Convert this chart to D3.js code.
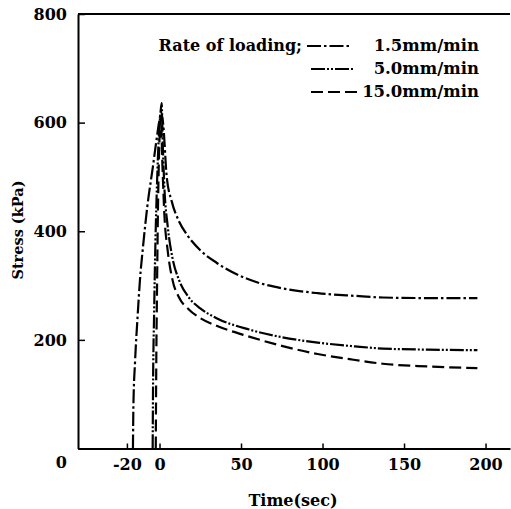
<!DOCTYPE html>
<html>
<head>
<meta charset="utf-8">
<script src="https://cdn.jsdelivr.net/npm/d3@7/dist/d3.min.js"></script>
<style>
    body { margin: 0; background: #fff; }
    svg { display: block; }
    text { font-family: "DejaVu Serif", serif; font-weight: bold; fill: #000; }
</style>
</head>
<body>
<div id="root"></div>
<script>
// data (time in sec, stress in kPa)
const seriesNames = ["1.5mm/min", "5.0mm/min", "15.0mm/min"];

const time15 = [-16.3, -16, -15, -13.5, -12, -10, -7.5, -4, -2, 0, 1, 2.3, 4.4, 7.5, 12, 17, 25, 35, 55, 75, 97, 120, 137, 165, 195];
const stress15 = [0, 80, 160, 240, 310, 375, 445, 520, 565, 605, 620, 596, 501, 455, 418, 393, 365, 342, 311, 295, 286, 281, 278, 277, 277];

const time50 = [-4.2, -4, -3.3, -2.5, -1.5, -0.5, 0.5, 1.3, 2, 3, 5, 8, 12, 18, 25, 35, 55, 75, 97, 120, 137, 165, 195];
const stress50 = [0, 100, 250, 380, 490, 570, 615, 636, 560, 480, 410, 350, 310, 278, 258, 240, 219, 205, 195, 188, 184, 182, 181];

const time150 = [-2.3, -2, -1.5, -1, -0.3, 0.5, 0.8, 1.8, 3, 5, 8, 12, 18, 25, 35, 55, 75, 97, 120, 137, 165, 195];
const stress150 = [0, 150, 300, 430, 540, 600, 610, 520, 430, 365, 310, 278, 256, 240, 226, 206, 189, 174, 163, 156, 151, 148];

const xTicks = [-20, 0, 50, 100, 150, 200];
const yTicks = [0, 200, 400, 600, 800];

(function () {
    const width = 511;
    const height = 509;

    const svg = d3.select("#root").append("svg")
        .attr("width", width)
        .attr("height", height);

    const x = d3.scaleLinear().domain([-50, 215]).range([78, 510]);
    const y = d3.scaleLinear().domain([0, 800]).range([448.5, 14]);

    // dash style per series
    const dashes = ["14,3,2.5,3", "14,2,2,2,2,2", "12,5"];

    // x axis (ticks point inward)
    const gx = svg.append("g")
        .attr("transform", `translate(0,${y(0)})`)
        .call(d3.axisBottom(x).tickValues(xTicks).tickFormat(d => String(d))
            .tickSizeInner(-5).tickSizeOuter(0).tickPadding(10));
    gx.select(".domain").attr("stroke-width", 2);
    gx.selectAll(".tick line").attr("stroke-width", 1.5);
    gx.selectAll(".tick text").style("font-size", "16px");

    // y axis
    const gy = svg.append("g")
        .attr("transform", `translate(${x(-50)},0)`)
        .call(d3.axisLeft(y).tickValues(yTicks).tickSizeInner(-7).tickSizeOuter(0).tickPadding(11));
    gy.select(".domain").attr("stroke-width", 2);
    gy.selectAll(".tick line").attr("stroke-width", 1.5);
    gy.selectAll(".tick text").style("font-size", "16px");
    gy.selectAll(".tick").filter(d => d === 0).select("text").attr("dy", "1.2em");

    // top frame line
    svg.append("line")
        .attr("x1", x(-50)).attr("x2", x(215))
        .attr("y1", y(800)).attr("y2", y(800))
        .attr("stroke", "#000").attr("stroke-width", 2);

    // axis titles
    svg.append("text")
        .attr("x", 293).attr("y", 506)
        .attr("text-anchor", "middle")
        .style("font-size", "16px")
        .text("Time(sec)");

    svg.append("text")
        .attr("transform", "translate(23,230) rotate(-90)")
        .attr("text-anchor", "middle")
        .style("font-size", "14.5px")
        .text("Stress (kPa)");

    // curves
    const line = d3.line()
        .x(d => x(d[0]))
        .y(d => y(d[1]))
        .curve(d3.curveMonotoneX);

    const series = [
        d3.zip(time15, stress15),
        d3.zip(time50, stress50),
        d3.zip(time150, stress150)
    ];

    svg.append("g").selectAll("path")
        .data(series)
        .join("path")
        .attr("d", line)
        .attr("fill", "none")
        .attr("stroke", "#000")
        .attr("stroke-width", 2.2)
        .attr("stroke-dasharray", (d, i) => dashes[i]);

    // legend
    svg.append("text")
        .attr("x", 302).attr("y", 51)
        .attr("text-anchor", "end")
        .style("font-size", "16px")
        .text("Rate of loading;");

    const legendRows = [
        { x1: 307, x2: 352, y: 46 },
        { x1: 311, x2: 353, y: 69 },
        { x1: 311, x2: 357, y: 92 }
    ];

    const lg = svg.append("g");
    legendRows.forEach((r, i) => {
        lg.append("line")
            .attr("x1", r.x1).attr("x2", r.x2)
            .attr("y1", r.y).attr("y2", r.y)
            .attr("stroke", "#000")
            .attr("stroke-width", 2)
            .attr("stroke-dasharray", dashes[i]);
        lg.append("text")
            .attr("x", 479).attr("y", r.y + 5)
            .attr("text-anchor", "end")
            .style("font-size", "16.5px")
            .text(seriesNames[i]);
    });
})();
</script>
</body>
</html>
